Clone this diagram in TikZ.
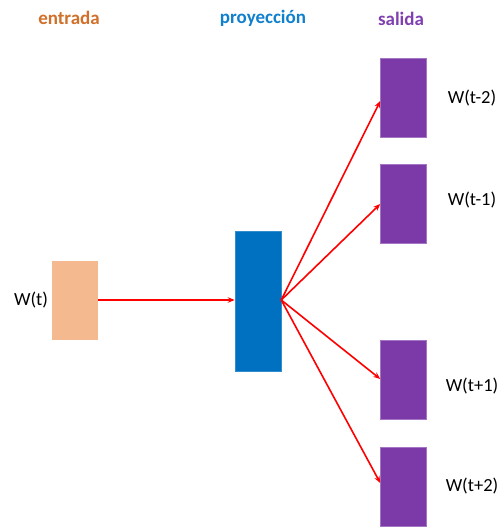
\documentclass[tikz,border=0pt]{standalone}
\usepackage{fontspec}
\setmainfont{Carlito}
\usetikzlibrary{arrows.meta}
\definecolor{inorange}{HTML}{F4B98E}
\definecolor{projblue}{HTML}{0070C0}
\definecolor{outpurple}{HTML}{7B3AA8}
\definecolor{hdorange}{HTML}{D0702A}
\definecolor{hdblue}{HTML}{1080CC}
\definecolor{hdpurple}{HTML}{8040B0}
\definecolor{arrred}{HTML}{FF0000}
\begin{document}
\begin{tikzpicture}[x=1pt,y=-1pt,
  box/.style={rectangle,inner sep=0pt,minimum width=46pt},
  outbox/.style={box,fill=outpurple,draw=outpurple!70!white,line width=0.5pt,minimum height=79pt},
  lbl/.style={font=\fontsize{18.5}{20}\selectfont,inner sep=0pt},
  hdr/.style={font=\fontsize{19}{21}\selectfont\bfseries,inner sep=0pt},
  conn/.style={draw=arrred,line width=1.6pt,-{Stealth[length=7pt,width=5.5pt]}}]
\useasboundingbox (0,0) rectangle (502,529);
\node[hdr,text=hdorange] (h1) at (69,18) {entrada};
\node[hdr,text=hdblue] (h2) at (263,18) {proyección};
\node[hdr,text=hdpurple] (h3) at (401,19) {salida};
\node[box,fill=inorange,minimum height=79pt] (in) at (75,300.5) {};
\node[box,fill=projblue,draw=projblue!80!white,line width=0.5pt,minimum height=140pt] (proj) at (258,301) {};
\node[outbox] (o1) at (403.5,97.5) {};
\node[outbox] (o2) at (403.5,203.5) {};
\node[outbox] (o3) at (403.5,380) {};
\node[outbox] (o4) at (403.5,486.5) {};
\node[lbl] (lin) at (31,300) {W(t)};
\node[lbl] (l1) at (472,98) {W(t-2)};
\node[lbl] (l2) at (472,200) {W(t-1)};
\node[lbl] (l3) at (472,386) {W(t+1)};
\node[lbl] (l4) at (472,486) {W(t+2)};
\coordinate (pe) at (proj.east |- 0,300);
\draw[conn] (in.east |- 0,300) -- (proj.west |- 0,300);
\draw[conn] (pe) -- (o1.west |- 0,101);
\draw[conn] (pe) -- (o2.west |- 0,204);
\draw[conn] (pe) -- (o3.west |- 0,379);
\draw[conn] (pe) -- (o4.west |- 0,483);
\end{tikzpicture}
\end{document}
